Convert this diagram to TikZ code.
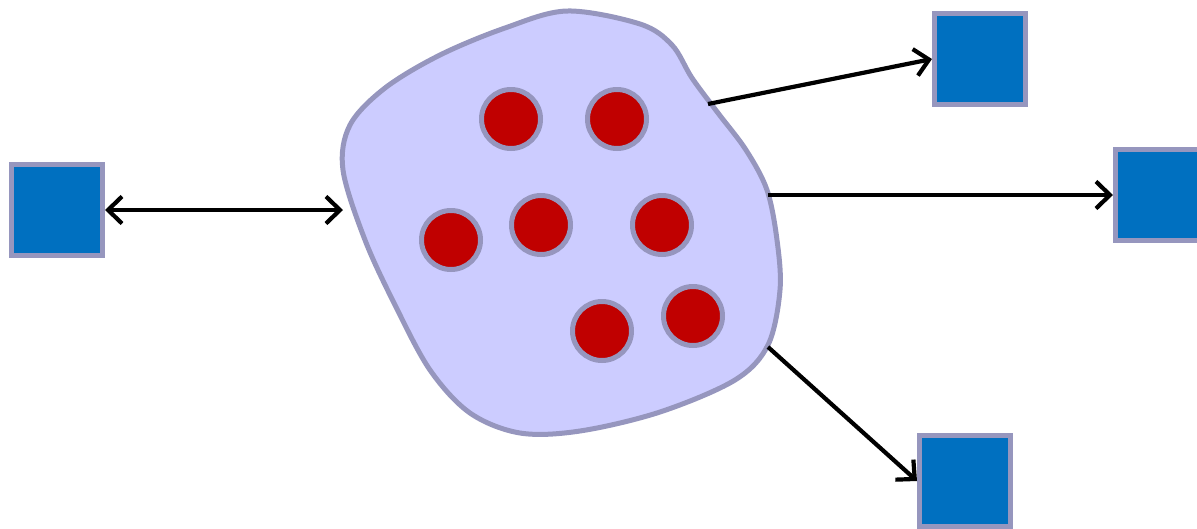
\documentclass[tikz,border=0pt]{standalone}
\usetikzlibrary{arrows.meta}
\definecolor{edgec}{RGB}{150,150,190}
\definecolor{blobfill}{RGB}{204,204,255}
\definecolor{sqfill}{RGB}{0,112,192}
\definecolor{dotfill}{RGB}{192,0,0}
\tikzset{
  sq/.style={rectangle, draw=edgec, fill=sqfill, line width=5pt, minimum size=91pt, inner sep=0pt},
  dot/.style={circle, draw=edgec, fill=dotfill, line width=5pt, minimum size=59pt, inner sep=0pt},
  blob/.style={draw=edgec, fill=blobfill, line width=5pt},
  tip/.style={},
  conn/.style={line width=4.2pt, black, -{Straight Barb[length=14pt,width=27pt]}},
  conn2/.style={line width=4.2pt, black, {Straight Barb[length=14pt,width=27pt]}-{Straight Barb[length=14pt,width=27pt]}}
}
\begin{document}
\begin{tikzpicture}[x=1pt,y=-1pt]
\useasboundingbox (0,0) rectangle (1197,528);
% blob
\draw[blob] plot[smooth cycle, tension=0.55] coordinates {
 (567,11) (640,24) (672,45) (692,78) (718,113) (746,150) (767,190) (777,240)
 (780,290) (768,345) (735,380) (660,412) (580,431) (520,433) (470,413)
 (430,370) (395,305) (365,240) (343,170) (350,125) (385,88) (440,55) (505,28)};
% dots
\node[dot] (d1) at (511,119) {};
\node[dot] (d2) at (617,119) {};
\node[dot] (d3) at (451,240) {};
\node[dot] (d4) at (541,225) {};
\node[dot] (d5) at (662,225) {};
\node[dot] (d6) at (602,331) {};
\node[dot] (d7) at (693,316) {};
% squares
\node[sq] (sqL) at (57,210) {};
\node[sq] (sqT) at (980,59) {};
\node[sq] (sqR) at (1161,195) {};
\node[sq] (sqB) at (965,481) {};
% boundary points of blob
\coordinate (bL) at (343,210);
\coordinate (bT) at (708,104);
\coordinate (bR) at (768,195);
\coordinate (bB) at (768,347);
% connectors
\draw[conn2] (sqL.east) -- (bL);
\draw[conn] (bT) -- (sqT.west);
\draw[conn] (bR) -- (sqR.west);
\draw[conn] (bB) -- (sqB.west);
\end{tikzpicture}
\end{document}
